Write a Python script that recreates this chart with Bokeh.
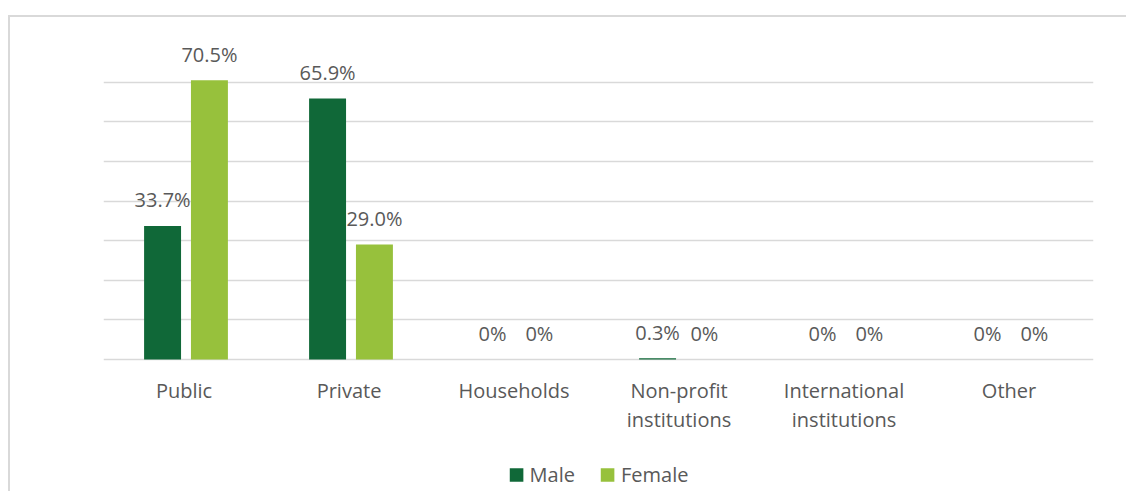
from bokeh.plotting import figure
from bokeh.models import (ColumnDataSource, FactorRange, Range1d, LabelSet, Legend,
                          LegendItem, FixedTicker)
from bokeh.transform import dodge
from bokeh.core.properties import value
from bokeh.embed import file_html
from bokeh.resources import INLINE

categories = ["Public", "Private", "Households", "Non-profit\ninstitutions",
              "International\ninstitutions", "Other"]
male = [33.7, 65.9, 0, 0.3, 0, 0]
female = [70.5, 29.0, 0, 0, 0, 0]
male_labels = ["33.7%", "65.9%", "0%", "0.3%", "0%", "0%"]
female_labels = ["70.5%", "29.0%", "0%", "0%", "0%", "0%"]
y_ticks = [0, 10, 20, 30, 40, 50, 60, 70, 80]

MALE_C = "#106838"
FEMALE_C = "#97c13c"
TEXT_C = "#595959"
GRID_C = "#d9d9d9"
FONT = "Open Sans"
FS = "20px"

src = ColumnDataSource(dict(cat=categories, male=male, female=female,
                            ml=male_labels, fl=female_labels))

p = figure(x_range=FactorRange(*categories), y_range=Range1d(-33.8, 80),
           width=1118, height=476, output_backend="svg", toolbar_location=None,
           min_border_left=93, min_border_right=35, min_border_top=25,
           min_border_bottom=0)
p.margin = (15, 0, 0, 8)
p.styles = {"border-top": "2px solid #d9d9d9", "border-left": "2px solid #d9d9d9"}
p.outline_line_color = None
p.background_fill_color = "white"
p.border_fill_color = "white"
p.xaxis.visible = False
p.yaxis.visible = False

off = 0.142
w = 0.224
r1 = p.vbar(x=dodge("cat", -off, range=p.x_range), top="male", width=w, source=src,
            fill_color=MALE_C, line_color=None)
r2 = p.vbar(x=dodge("cat", off, range=p.x_range), top="female", width=w, source=src,
            fill_color=FEMALE_C, line_color=None)

for col, o, ys in (("ml", -off, "male"), ("fl", off, "female")):
    lab = LabelSet(x=dodge("cat", o, range=p.x_range), y=ys, text=col, source=src,
                   text_align="center", text_baseline="middle", y_offset=26,
                   text_font=value(FONT), text_font_size=FS, text_color=TEXT_C)
    p.add_layout(lab)

# category labels drawn below the baseline
p.text(x="cat", y=-4.45, text="cat", source=src, text_align="center",
       text_baseline="top", text_font=value(FONT), text_font_size=FS,
       text_color=TEXT_C, text_line_height=1.07, x_offset=-2)

p.ygrid.ticker = FixedTicker(ticks=y_ticks)
p.ygrid.grid_line_color = GRID_C
p.ygrid.grid_line_width = 1.5
p.xgrid.grid_line_color = None

legend = Legend(items=[LegendItem(label="Male", renderers=[r1]),
                       LegendItem(label="Female", renderers=[r2])],
                orientation="horizontal", location="bottom_center")
legend.label_text_font = FONT
legend.label_text_font_size = FS
legend.label_text_color = TEXT_C
legend.glyph_width = 17
legend.glyph_height = 17
legend.label_standoff = 5
legend.spacing = 24
legend.border_line_color = None
legend.background_fill_alpha = 0
legend.margin = 5
legend.padding = 0
p.add_layout(legend, "center")

open("out.html", "w").write(file_html(p, INLINE))
